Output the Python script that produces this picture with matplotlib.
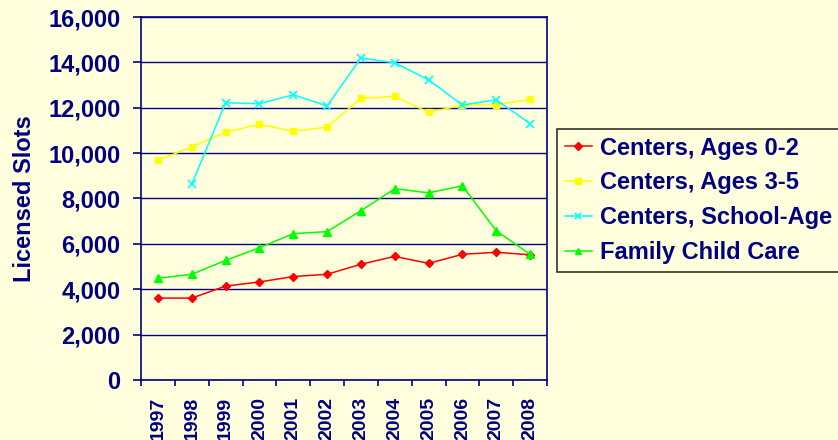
import numpy as np
import matplotlib.pyplot as plt
from matplotlib.ticker import FuncFormatter

years = ['1997', '1998', '1999', '2000', '2001', '2002',
         '2003', '2004', '2005', '2006', '2007', '2008']

ages_0_2 = [3610, 3610, 4140, 4320, 4560, 4660, 5100, 5450, 5140, 5540, 5630, 5520]
ages_3_5 = [9680, 10270, 10920, 11270, 10970, 11140, 12410, 12500, 11800, 12110, 12140, 12370]
school_age = [np.nan, 8620, 12220, 12180, 12570, 12080, 14190, 13980, 13230, 12120, 12350, 11300]
family_care = [4480, 4660, 5270, 5830, 6450, 6540, 7460, 8430, 8250, 8560, 6580, 5540]

series_names = ['Centers, Ages 0-2', 'Centers, Ages 3-5',
                'Centers, School-Age', 'Family Child Care']

bg = '#FFFFDD'
navy = '#000080'
plt.rcParams['font.family'] = ['Liberation Sans', 'DejaVu Sans']

fig = plt.figure(figsize=(8.38, 4.40), dpi=100, facecolor=bg)
ax = fig.add_axes([141 / 838, 1 - 380 / 440, 406 / 838, 363 / 440], facecolor=bg)

x = np.arange(len(years))
ax.plot(x, ages_0_2, color='#FF0000', marker='D', markersize=4.5, lw=1.1, label=series_names[0])
ax.plot(x, ages_3_5, color='#FFFF00', marker='s', markersize=5, lw=1.1, label=series_names[1])
ax.plot(x, school_age, color='#00FFFF', marker='x', markersize=6, mew=1.2, lw=1.1, label=series_names[2])
ax.plot(x, family_care, color='#00FF00', marker='^', markersize=6, lw=1.1, label=series_names[3])

ax.set_xlim(-0.5, len(years) - 0.5)
ax.set_ylim(0, 16000)
ax.set_yticks(np.arange(0, 16001, 2000))
ax.yaxis.set_major_formatter(FuncFormatter(lambda v, p: f'{int(v):,}'))
ax.grid(axis='y', color=navy, lw=1)
ax.set_axisbelow(True)

ax.set_xticks(x)
ax.set_xticklabels(years, rotation=90, fontsize=14, fontweight='bold', color=navy)
ax.set_xticks(np.arange(-0.5, len(years), 1), minor=True)
ax.tick_params(axis='x', which='major', length=0, pad=12)
ax.tick_params(axis='x', which='minor', length=4, color=navy, width=1.2)
ax.tick_params(axis='y', length=5.8, color=navy, width=1.2, labelsize=17, labelcolor=navy, pad=9)
for lab in ax.get_yticklabels():
    lab.set_fontweight('bold')

for sp in ax.spines.values():
    sp.set_color(navy)
    sp.set_linewidth(1.2)

ax.set_ylabel('Licensed Slots', fontsize=17, fontweight='bold', color=navy, labelpad=9)

# legend box runs off the right edge, as in the original
leg = fig.legend(loc='upper left', bbox_to_anchor=(557 / 838, 1 - 129 / 440, 0.4, 0),
                 mode='expand', borderaxespad=0, fontsize=17, frameon=True,
                 fancybox=False, facecolor=bg, edgecolor='black', handlelength=1.15,
                 handletextpad=0.35, borderpad=0.32, labelspacing=0.5,
                 markerscale=0.8)
leg.get_frame().set_linewidth(1.2)
for t in leg.get_texts():
    t.set_color(navy)
    t.set_fontweight('bold')

fig.savefig('out.png', dpi=100, facecolor=bg)
